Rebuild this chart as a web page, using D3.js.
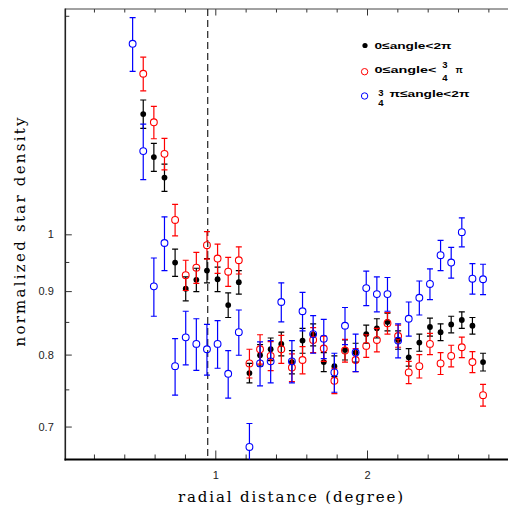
<!DOCTYPE html>
<html><head><meta charset="utf-8">
<script src="https://cdn.jsdelivr.net/npm/d3@7"></script>
<style>body{margin:0;background:#fff} svg{display:block}</style>
</head><body>
<svg id="c" width="508" height="510"></svg>
<script>
// ---- data ----
const radius = [0.455, 0.525, 0.595, 0.665, 0.735, 0.805, 0.875, 0.945, 1.015, 1.085,
  1.155, 1.225, 1.295, 1.365, 1.435, 1.505, 1.575, 1.645, 1.715, 1.785,
  1.855, 1.925, 1.995, 2.065, 2.135, 2.205, 2.275, 2.345, 2.415, 2.485,
  2.555, 2.625, 2.695, 2.765];
// all angles (black), first radius bin empty
const allVal = [null, 1.250, 1.154, 1.111, 0.949, 0.904, 0.919, 0.935, 0.920, 0.877, 0.915,
  0.773, 0.799, 0.808, 0.816, 0.789, 0.821, 0.830, 0.789, 0.783, 0.807,
  0.803, 0.831, 0.840, 0.850, 0.822, 0.796, 0.818, 0.842, 0.834, 0.846,
  0.853, 0.844, 0.789];
const allErr = [null, 0.033, 0.030, 0.028, 0.024, 0.020, 0.020, 0.021, 0.021, 0.020, 0.020,
  0.014, 0.016, 0.017, 0.018, 0.017, 0.019, 0.017, 0.014, 0.015, 0.015,
  0.014, 0.014, 0.015, 0.014, 0.014, 0.013, 0.013, 0.014, 0.013, 0.013,
  0.013, 0.013, 0.013];
// 0 <= angle < 3/4 pi (red)
const sectAVal = [null, 1.347, 1.231, 1.161, 1.027, 0.927, 0.940, 0.980, 0.956, 0.933, 0.953,
  0.787, 0.808, 0.798, 0.808, 0.781, 0.792, 0.822, 0.809, 0.762, 0.806,
  0.792, 0.813, 0.822, 0.848, 0.828, 0.774, 0.783, 0.816, 0.787, 0.798,
  0.811, 0.789, 0.742];
const sectAErr = [null, 0.042, 0.037, 0.034, 0.030, 0.026, 0.027, 0.025, 0.026, 0.025, 0.024,
  0.021, 0.022, 0.0215, 0.021, 0.020, 0.020, 0.019, 0.019, 0.018, 0.017,
  0.017, 0.017, 0.018, 0.017, 0.017, 0.016, 0.017, 0.016, 0.016, 0.016,
  0.0155, 0.0154, 0.015];
// 3/4 pi <= angle < 2 pi (blue)
const sectBVal = [1.424, 1.167, 0.908, 0.984, 0.783, 0.826, 0.816, 0.808, 0.816, 0.772,
  0.834, 0.674, 0.787, 0.790, 0.882, 0.790, 0.867, 0.831, 0.824, 0.774,
  0.844, 0.803, 0.905, 0.895, 0.895, 0.821, 0.855, 0.889, 0.912, 0.962,
  0.949, 1.004, 0.921, 0.920];
const sectBErr = [0.071, 0.060, 0.049, 0.049, 0.041, 0.041, 0.039, 0.038, 0.036, 0.034,
  0.035, 0.030, 0.032, 0.031, 0.032, 0.031, 0.031, 0.029, 0.030, 0.028,
  0.029, 0.028, 0.029, 0.029, 0.028, 0.026, 0.027, 0.028, 0.026, 0.027,
  0.027, 0.027, 0.026, 0.026];
const xMajor = [1, 2];
const xMinor = [0.2, 0.4, 0.6, 0.8, 1.2, 1.4, 1.6, 1.8, 2.2, 2.4, 2.6, 2.8];
const yMajor = [0.7, 0.8, 0.9, 1];
const yMinor = [0.75, 0.85, 0.95, 1.5];
const coreRadius = 0.95;

// ---- layout ----
const svg = d3.select('#c');
const L = 65.3, T = 9, B = 459.5;
const x = d3.scaleLinear().domain([0.0112, 3.0]).range([L, 518.7]);
const y = d3.scaleLog().domain([0.6585, 1.519]).range([B, T]);

svg.append('defs').append('clipPath').attr('id', 'clip')
  .append('rect').attr('x', L).attr('y', T).attr('width', 520 - L).attr('height', B - T);

const tickFont = g => g.selectAll('text').attr('font-family', 'Liberation Sans, Arial, sans-serif')
  .attr('font-size', 11).attr('fill', '#222');
const tickStroke = g => { g.select('.domain').remove(); g.selectAll('line').attr('stroke', '#333').attr('stroke-width', 1); };

// bottom axis
svg.append('g').attr('transform', `translate(0,${B})`)
  .call(d3.axisBottom(x).tickValues(xMajor).tickSizeInner(-9).tickSizeOuter(0).tickPadding(11.5).tickFormat(d3.format('d')))
  .call(tickStroke).call(tickFont);
svg.append('g').attr('transform', `translate(0,${B})`)
  .call(d3.axisBottom(x).tickValues(xMinor).tickSizeInner(-5).tickSizeOuter(0).tickFormat(''))
  .call(tickStroke);
// top axis
svg.append('g').attr('transform', `translate(0,${T})`)
  .call(d3.axisTop(x).tickValues(xMajor).tickSizeInner(-6.5).tickSizeOuter(0).tickFormat(''))
  .call(tickStroke);
svg.append('g').attr('transform', `translate(0,${T})`)
  .call(d3.axisTop(x).tickValues(xMinor).tickSizeInner(-3.5).tickSizeOuter(0).tickFormat(''))
  .call(tickStroke);
// left axis
svg.append('g').attr('transform', `translate(${L},0)`)
  .call(d3.axisLeft(y).tickValues(yMajor).tickSizeInner(-6.5).tickSizeOuter(0).tickPadding(11.5)
    .tickFormat(d => d === 1 ? '1' : d3.format('.1f')(d)))
  .call(tickStroke).call(tickFont);
svg.append('g').attr('transform', `translate(${L},0)`)
  .call(d3.axisLeft(y).tickValues(yMinor).tickSizeInner(-4).tickSizeOuter(0).tickFormat(''))
  .call(tickStroke);

// frame lines
svg.append('line').attr('x1', L).attr('x2', 508).attr('y1', T).attr('y2', T).attr('stroke', '#444').attr('stroke-width', 1);
svg.append('line').attr('x1', L).attr('x2', L).attr('y1', T - 0.5).attr('y2', B + 1).attr('stroke', '#222').attr('stroke-width', 1.6);
svg.append('line').attr('x1', L - 0.8).attr('x2', 508).attr('y1', B).attr('y2', B).attr('stroke', '#000').attr('stroke-width', 2.2);

// dashed core line
svg.append('line').attr('x1', x(coreRadius)).attr('x2', x(coreRadius)).attr('y1', T).attr('y2', B)
  .attr('stroke', '#222').attr('stroke-width', 1.2).attr('stroke-dasharray', '7,4');

// ---- series ----
const plot = svg.append('g').attr('clip-path', 'url(#clip)');
function drawSeries(vals, errs, color, filled) {
  const pts = radius.map((r, i) => ({ r, v: vals[i], e: errs[i] })).filter(d => d.v != null);
  const g = plot.append('g');
  const rr = filled ? 0 : 3.4;
  const cw = 3;
  pts.forEach(d => {
    const cx = x(d.r), cy = y(d.v), y1 = y(d.v + d.e), y0 = y(d.v - d.e);
    g.append('line').attr('x1', cx).attr('x2', cx).attr('y1', y1).attr('y2', cy - rr).attr('stroke', color).attr('stroke-width', 1.2);
    g.append('line').attr('x1', cx).attr('x2', cx).attr('y1', cy + rr).attr('y2', y0).attr('stroke', color).attr('stroke-width', 1.2);
    g.append('line').attr('x1', cx - cw).attr('x2', cx + cw).attr('y1', y1).attr('y2', y1).attr('stroke', color).attr('stroke-width', 1.2);
    g.append('line').attr('x1', cx - cw).attr('x2', cx + cw).attr('y1', y0).attr('y2', y0).attr('stroke', color).attr('stroke-width', 1.2);
  });
  g.selectAll('circle').data(pts).join('circle')
    .attr('cx', d => x(d.r)).attr('cy', d => y(d.v))
    .attr('r', filled ? 2.9 : 3.4)
    .attr('fill', filled ? color : 'none')
    .attr('stroke', filled ? 'none' : color).attr('stroke-width', 1.1);
}
drawSeries(allVal, allErr, '#000', true);
drawSeries(sectAVal, sectAErr, '#ff0000', false);
drawSeries(sectBVal, sectBErr, '#0000ff', false);

// ---- legend ----
const lf = 'Liberation Sans Narrow, Liberation Sans, Arial, sans-serif';
const lg = svg.append('g').attr('font-family', lf).attr('font-weight', 'bold').attr('font-size', 9.5).attr('fill', '#000');
lg.append('circle').attr('cx', 365).attr('cy', 45.5).attr('r', 2.6).attr('fill', '#000');
lg.append('text').attr('x', 374.5).attr('y', 49).attr('textLength', 77).attr('lengthAdjust', 'spacingAndGlyphs').text('0≤angle<2π');
lg.append('circle').attr('cx', 364.6).attr('cy', 71.7).attr('r', 3.2).attr('fill', 'none').attr('stroke', '#ff0000').attr('stroke-width', 1);
lg.append('text').attr('x', 374.5).attr('y', 73.2).attr('textLength', 62).attr('lengthAdjust', 'spacingAndGlyphs').text('0≤angle<');
lg.append('text').attr('x', 445).attr('y', 68).attr('text-anchor', 'middle').text('3');
lg.append('text').attr('x', 445).attr('y', 80.5).attr('text-anchor', 'middle').text('4');
lg.append('text').attr('x', 455.5).attr('y', 73.2).text('π');
lg.append('circle').attr('cx', 364.6).attr('cy', 96).attr('r', 3.2).attr('fill', 'none').attr('stroke', '#0000ff').attr('stroke-width', 1);
lg.append('text').attr('x', 380.8).attr('y', 95.5).attr('text-anchor', 'middle').text('3');
lg.append('text').attr('x', 380.8).attr('y', 105.5).attr('text-anchor', 'middle').text('4');
lg.append('text').attr('x', 389.5).attr('y', 96.6).attr('textLength', 80).attr('lengthAdjust', 'spacingAndGlyphs').text('π≤angle<2π');

// ---- axis titles ----
svg.append('text').attr('x', 290.5).attr('y', 502).attr('text-anchor', 'middle')
  .attr('font-family', 'DejaVu Serif, serif').attr('font-size', 15).attr('fill', '#000')
  .attr('textLength', 225).attr('lengthAdjust', 'spacing')
  .text('radial distance (degree)');
svg.append('text').attr('transform', 'translate(25,232) rotate(-90)').attr('text-anchor', 'middle')
  .attr('font-family', 'DejaVu Serif, serif').attr('font-size', 15).attr('fill', '#000')
  .attr('textLength', 229).attr('lengthAdjust', 'spacing')
  .text('normalized star density');
</script>
</body></html>
